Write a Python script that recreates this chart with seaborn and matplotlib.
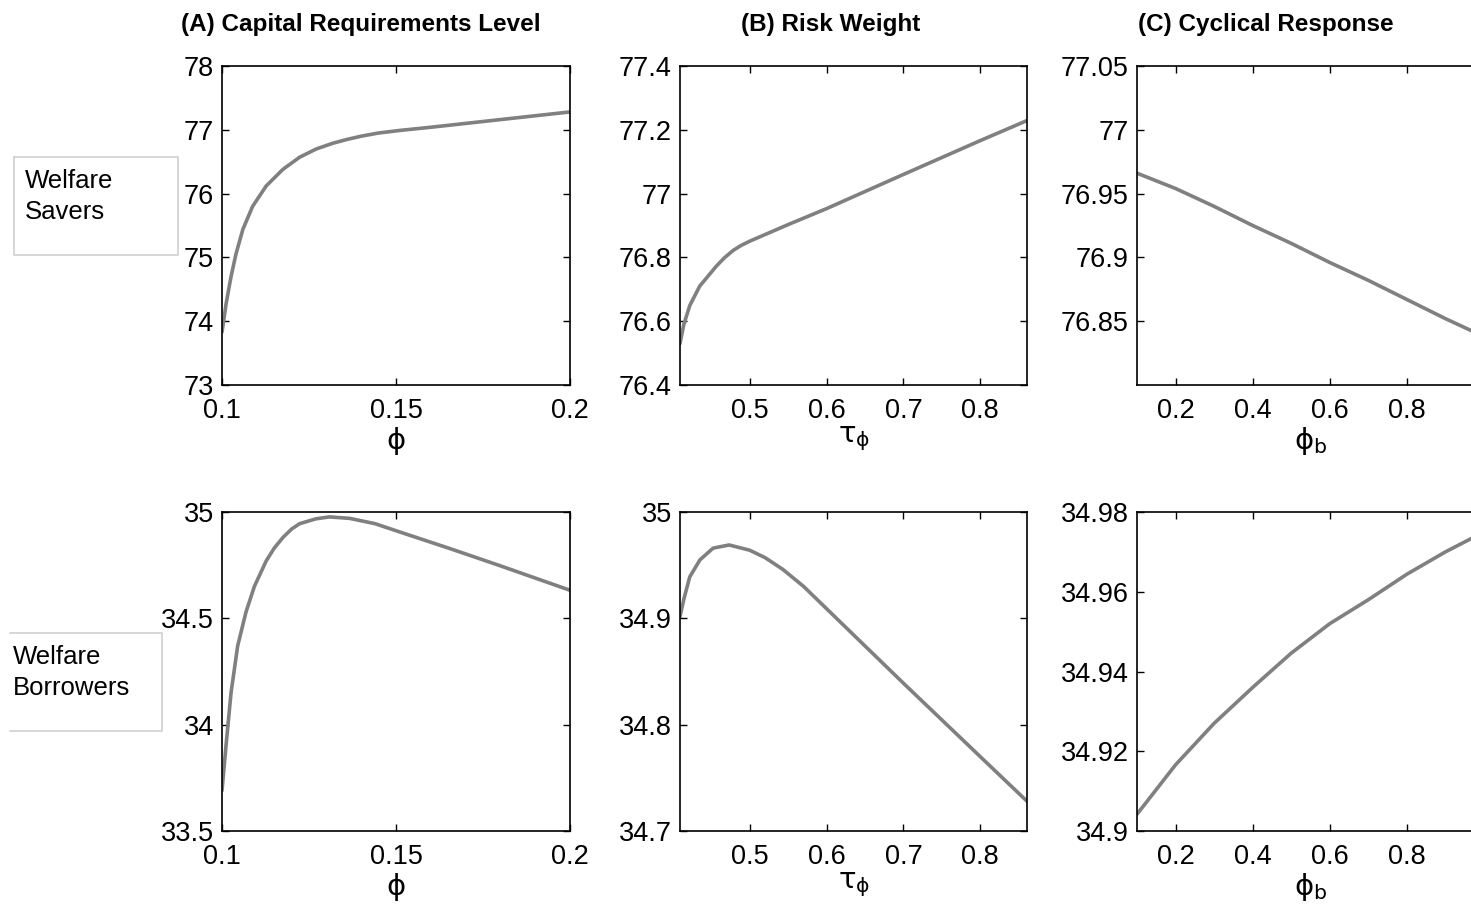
import numpy as np
import matplotlib
matplotlib.use("Agg")
import matplotlib.pyplot as plt
from matplotlib.lines import Line2D
from matplotlib.ticker import FuncFormatter
import seaborn as sns

# ─── values ──────────────────────────────────────────────────────────────────

# (A) capital requirements level, phi
phi_sav = [0.100, 0.1012, 0.1026, 0.104, 0.106, 0.1088, 0.1127, 0.1175, 0.1223,
           0.1271, 0.1319, 0.136, 0.140, 0.145, 0.1511, 0.160, 0.170, 0.180,
           0.190, 0.200]
welf_sav_a = [73.83, 74.28, 74.70, 75.05, 75.44, 75.80, 76.12, 76.38, 76.57,
              76.70, 76.79, 76.85, 76.90, 76.95, 76.99, 77.04, 77.10, 77.16,
              77.22, 77.28]

phi_bor = [0.100, 0.1012, 0.1026, 0.1045, 0.1069, 0.1093, 0.1127, 0.115, 0.1175,
           0.120, 0.1223, 0.127, 0.1309, 0.1367, 0.144, 0.1511, 0.1655, 0.1798, 0.200]
welf_bor_a = [33.69, 33.91, 34.15, 34.37, 34.53, 34.65, 34.77, 34.83, 34.88,
              34.92, 34.945, 34.968, 34.977, 34.97, 34.945, 34.906, 34.828, 34.748,
              34.632]

# (B) risk weight, tau_phi
tau_sav = [0.409, 0.414, 0.4217, 0.4347, 0.4565, 0.467, 0.4783, 0.489, 0.500,
           0.550, 0.600, 0.700, 0.800, 0.861]
welf_sav_b = [76.53, 76.59, 76.649, 76.71, 76.773, 76.799, 76.822, 76.838, 76.851,
              76.903, 76.953, 77.060, 77.166, 77.229]

tau_bor = [0.409, 0.414, 0.4217, 0.435, 0.4521, 0.473, 0.500, 0.520, 0.543, 0.570,
           0.600, 0.700, 0.800, 0.861]
welf_bor_b = [34.9016, 34.918, 34.939, 34.955, 34.966, 34.969, 34.964, 34.957,
              34.946, 34.930, 34.909, 34.839, 34.770, 34.728]

# (C) cyclical response, phi_b
phib = [0.1, 0.2, 0.3, 0.4, 0.5, 0.6, 0.7, 0.8, 0.9, 1.0]
welf_sav_c = [76.966, 76.954, 76.940, 76.925, 76.911, 76.896, 76.882, 76.867,
              76.852, 76.838]
welf_bor_c = [34.9042, 34.9166, 34.927, 34.936, 34.9446, 34.952, 34.958, 34.9644,
              34.970, 34.975]

col_titles = ["(A) Capital Requirements Level", "(B) Risk Weight", "(C) Cyclical Response"]
row_labels = ["Welfare\nSavers", "Welfare\nBorrowers"]
x_labels = [r"$\phi$", r"$\tau_{\phi}$", r"$\phi_{b}$"]

# ─── style ───────────────────────────────────────────────────────────────────

sns.set_theme(style="ticks")
plt.rcParams["font.family"] = ["Liberation Sans", "DejaVu Sans"]
plt.rcParams["text.color"] = "black"
plt.rcParams["axes.labelcolor"] = "black"
plt.rcParams["mathtext.fontset"] = "custom"
plt.rcParams["mathtext.rm"] = "DejaVu Sans"
plt.rcParams["mathtext.it"] = "DejaVu Sans"

W, H = 1471, 913
fig = plt.figure(figsize=(W / 100, H / 100), dpi=100)


def px_axes(x0, x1, y0, y1):
    return fig.add_axes([x0 / W, 1 - y1 / H, (x1 - x0) / W, (y1 - y0) / H])


col_px = [(222, 570), (680, 1027), (1137, 1484)]
row_px = [(66, 385), (512, 831)]

panels = [
    # row 0
    (phi_sav, welf_sav_a, (0.1, 0.2), [0.1, 0.15, 0.2], (73, 78), np.arange(73, 78.01, 1)),
    (tau_sav, welf_sav_b, (0.409, 0.861), [0.5, 0.6, 0.7, 0.8], (76.4, 77.4), np.arange(76.4, 77.41, 0.2)),
    (phib, welf_sav_c, (0.1, 1.0), [0.2, 0.4, 0.6, 0.8], (76.8, 77.05), [76.85, 76.9, 76.95, 77.0, 77.05]),
    # row 1
    (phi_bor, welf_bor_a, (0.1, 0.2), [0.1, 0.15, 0.2], (33.5, 35), [33.5, 34, 34.5, 35]),
    (tau_bor, welf_bor_b, (0.409, 0.861), [0.5, 0.6, 0.7, 0.8], (34.7, 35), [34.7, 34.8, 34.9, 35.0]),
    (phib, welf_bor_c, (0.1, 1.0), [0.2, 0.4, 0.6, 0.8], (34.9, 34.98), [34.9, 34.92, 34.94, 34.96, 34.98]),
]

fmt = FuncFormatter(lambda v, p: f"{round(v, 6):g}")

for i, (xs, ys, xlim, xt, ylim, yt) in enumerate(panels):
    r, c = divmod(i, 3)
    ax = px_axes(col_px[c][0], col_px[c][1], row_px[r][0], row_px[r][1])
    sns.lineplot(x=xs, y=ys, ax=ax, color="#808080", linewidth=2.6)
    ax.set_xlim(*xlim)
    ax.set_ylim(*ylim)
    ax.set_xticks(xt)
    ax.set_yticks(yt)
    ax.xaxis.set_major_formatter(fmt)
    ax.yaxis.set_major_formatter(fmt)
    ax.tick_params(direction="in", length=5, width=1, labelsize=19.5, colors="black",
                   top=True, right=True)
    ax.tick_params(axis="x", pad=9)
    ax.tick_params(axis="y", pad=6)
    for s in ax.spines.values():
        s.set_visible(True)
        s.set_linewidth(1.2)
        s.set_color("black")
    ax.set_xlabel(x_labels[c], fontsize=21, labelpad=1)
    ax.set_ylabel("")
    ax.grid(False)

# column titles
title_x = [361, 831, 1266]
for tx, t in zip(title_x, col_titles):
    fig.text(tx / W, 1 - 24 / H, t, ha="center", va="center", fontsize=17.5, fontweight="bold")

# row label boxes
boxes = [(14, 178, 157, 255), (10, 162, 633, 731)]
text_x = [25, 13]
for (bx0, bx1, by0, by1), lab, left_edge, tx in zip(boxes, row_labels, [True, False], text_x):
    xs_ = [bx0, bx1, bx1, bx0] + ([bx0] if left_edge else [])
    ys_ = [by0, by0, by1, by1] + ([by0] if left_edge else [])
    fig.add_artist(Line2D([x / W for x in xs_], [1 - y / H for y in ys_],
                          transform=fig.transFigure, color="#d0d0d0", linewidth=1.2))
    fig.text(tx / W, 1 - (by0 + 12) / H, lab, ha="left", va="top",
             fontsize=18.5, linespacing=1.38)

fig.savefig("out.png", dpi=100)
